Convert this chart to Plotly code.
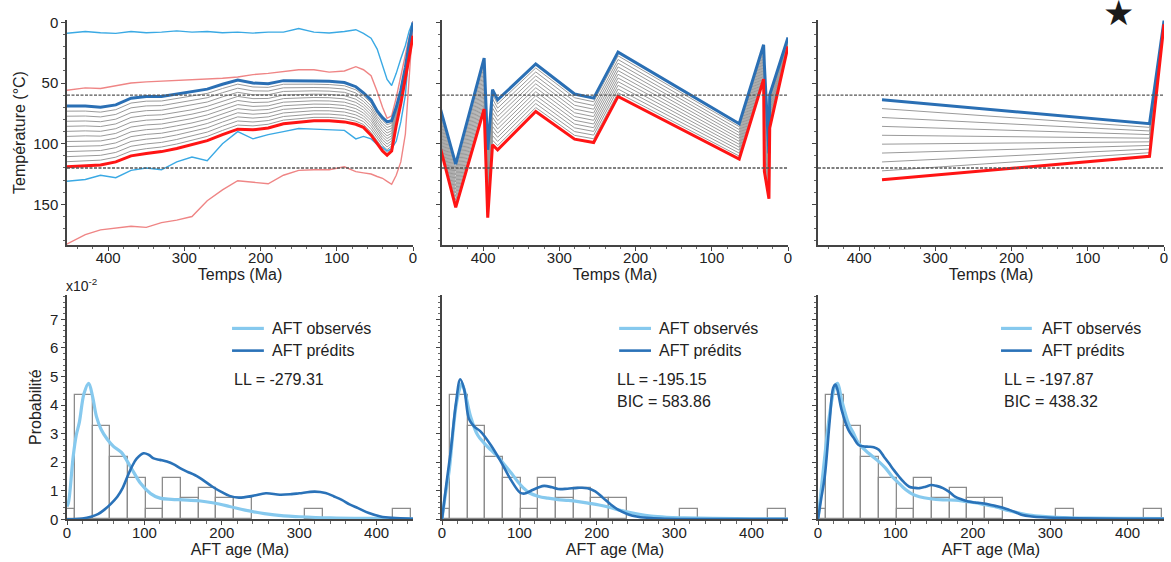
import plotly.graph_objects as go

# ---------------- Top row: time-temperature histories ----------------
# Panel 1 (sampled along a common time grid, Ma)
TIME1 = [455, 430, 410, 390, 370, 350, 330, 310, 290, 270, 250, 230, 210, 190, 170,
         150, 130, 110, 90, 75, 65, 55, 47, 40, 34, 28, 22, 16, 10, 5, 0]
BEST1 = [69, 69, 70, 68, 62.5, 61, 61, 59, 57.5, 55, 51, 47.5, 50, 50.5, 48,
         47.8, 48.2, 48.5, 49.5, 53, 58, 64, 73, 78.5, 82, 81, 70, 56, 37, 17, 0]
WORST1 = [119, 118, 117.5, 115, 110, 108, 106.5, 104, 101, 97.5, 92.5, 88, 88.5, 87, 83.5,
          82, 81, 81, 82, 84, 86.5, 93, 100, 106, 109.5, 106, 85, 67, 46, 27, 11]
ENV_BLUE_TOP1 = [9, 7.5, 8.5, 9, 7.5, 8.5, 8, 7, 8, 7.5, 8.5, 8, 8.8, 8, 8,
                 5, 8, 8.7, 7.5, 6, 9, 13, 22, 36, 47, 52, 42, 30, 19, 7, -1]
ENV_RED_TOP1 = [56, 54, 54.5, 52, 50, 49, 48.5, 48, 47, 46.5, 46, 45, 43, 42, 40.5,
                39, 39, 41, 40, 36.5, 39, 44, 57, 70, 79, 77, 62, 45, 26, 12, 2]
ENV_BLUE_BOT1 = [131, 129.5, 126, 128, 122, 120, 121.5, 115, 111, 114, 100, 90, 96, 92.5, 90,
                 87.5, 88, 88.5, 89, 96, 94, 96, 100.5, 103, 106, 104, 98, 82, 60, 22, 0]
ENV_RED_BOT1 = [183, 175, 171, 169.5, 168, 169, 165, 163, 160, 147, 138, 130.5, 132, 133, 126,
                122, 121.5, 121.4, 119, 123, 124, 125, 127, 128.5, 131, 133.5, 126, 115, 92, 47, -1]

# Panel 2 (path nodes, Ma)
TIME2 = [460, 436, 398.7, 394, 387.7, 381, 331, 280, 255, 223, 64, 32, 31, 25, 24, 0]
BEST2 = [62.3, 116.8, 29.4, 105, 55.5, 63.8, 34.3, 59, 62.4, 24.5, 83.5, 18.4, 35, 108, 59.6, 12.4]
WORST2 = [94, 152.5, 71.4, 161, 100.8, 105, 73.4, 96.2, 99, 61, 112.6, 46.7, 122.8, 145.3, 87, 19.8]

# Panel 3 (path nodes, Ma)
TIME3 = [370, 19, 0]
BEST3 = [63.7, 83.5, -1.5]
WORST3 = [129.7, 110.4, 1.5]

N_INTERVALS = [12, 12, 9]      # number of steps between best and worst paths
PAZ_LIMITS = [60, 120]         # dashed isotherms (degC)

# ---------------- Bottom row: AFT age distributions ----------------
BIN_CENTERS = [-1.1, 21.7, 44.6, 67.4, 90.3, 113.1, 136.0, 158.8, 181.7, 204.5, 227.4, 318.8, 433.0]
BIN_HEIGHTS = [0.36, 4.36, 3.27, 2.18, 1.45, 0.36, 1.45, 0.73, 1.09, 0.73, 0.73, 0.36, 0.36]
BIN_WIDTH = 22.85

OBS1_AGE = [0, 2, 8, 12, 16, 22, 28, 33, 38, 44, 52, 60, 70, 82, 95, 108, 120, 135, 150,
            170, 190, 210, 230, 255, 280, 300, 340, 390, 447]
OBS1_VAL = [0.45, 0.6, 2.2, 2.95, 3.4, 4.4, 4.76, 4.3, 3.6, 3.15, 2.8, 2.55, 2.35, 1.84, 1.26,
            0.9, 0.74, 0.7, 0.68, 0.65, 0.57, 0.45, 0.32, 0.2, 0.12, 0.09, 0.05, 0.03, 0.02]
PRED1_AGE = [0, 20, 31, 40, 48, 57, 65, 72, 78, 84, 90, 99, 106, 112, 120, 129, 138, 146, 155,
             165, 172, 188, 200, 210, 222, 240, 257, 275, 290, 300, 320, 334, 345, 355, 365,
             376, 390, 405, 420, 447]
PRED1_VAL = [0.0, 0.03, 0.09, 0.18, 0.33, 0.55, 0.79, 1.1, 1.49, 1.85, 2.12, 2.31, 2.25, 2.13,
             2.08, 2.02, 1.92, 1.79, 1.67, 1.55, 1.44, 1.14, 0.95, 0.82, 0.76, 0.82, 0.91, 0.86,
             0.88, 0.91, 0.97, 0.92, 0.8, 0.68, 0.52, 0.39, 0.22, 0.1, 0.05, 0.02]

OBS2_AGE = [0, 4, 9.4, 14, 18, 22, 25.5, 28, 31, 37, 46, 55, 63, 72, 81, 90, 97, 105, 113,
            125, 137, 150, 163, 176, 190, 203, 216, 228, 240, 253, 270, 290, 313, 350, 400, 447]
OBS2_VAL = [0, 0.8, 1.73, 3.0, 3.94, 4.5, 4.76, 4.6, 4.29, 3.59, 2.95, 2.65, 2.43, 2.2, 1.9,
            1.6, 1.35, 1.1, 0.92, 0.8, 0.74, 0.69, 0.66, 0.62, 0.56, 0.5, 0.42, 0.33, 0.25,
            0.18, 0.11, 0.07, 0.05, 0.03, 0.02, 0.02]
PRED2_AGE = [0, 5, 11.5, 18, 23.6, 28.8, 35, 41.8, 50, 63, 76, 89, 101, 107, 115, 125, 132,
             142, 150, 162, 175, 188, 198, 208, 218, 228, 240, 253, 270, 290, 330, 400, 447]
PRED2_VAL = [0, 1.1, 2.45, 4.06, 4.9, 4.53, 3.5, 3.24, 3.07, 2.6, 2.02, 1.38, 0.93, 0.9, 1.0,
             1.12, 1.17, 1.12, 1.06, 1.07, 1.1, 1.09, 0.98, 0.75, 0.52, 0.33, 0.18, 0.09, 0.04,
             0.02, 0.01, 0.01, 0.01]

OBS3_AGE = [0, 4, 8.7, 15.2, 21.8, 25.3, 30.5, 39.3, 46, 52.4, 65.5, 78.6, 87, 96, 105, 113.5,
            122, 131, 145, 161.5, 177, 190, 203, 216, 229, 247, 260, 273, 290, 308, 350, 400, 452]
OBS3_VAL = [0, 1.0, 2.19, 3.71, 4.64, 4.76, 4.18, 3.36, 3.0, 2.66, 2.31, 2.02, 1.8, 1.49, 1.25,
            1.03, 0.88, 0.79, 0.72, 0.68, 0.67, 0.63, 0.58, 0.51, 0.44, 0.3, 0.22, 0.15, 0.1,
            0.07, 0.04, 0.03, 0.02]
PRED3_AGE = [0, 4, 8.7, 15.2, 19.6, 22.5, 25, 30.5, 39.3, 46, 52.4, 60, 65.5, 72, 78.6, 85,
             91.7, 98, 104.8, 111, 117.9, 125, 131, 139, 146.2, 153, 161.5, 170, 177, 185, 194,
             203, 212, 221, 229, 238, 247, 256, 264, 276, 290, 320, 400, 452]
PRED3_VAL = [0, 0.7, 1.49, 3.48, 4.6, 4.72, 4.55, 3.83, 3.13, 2.85, 2.6, 2.55, 2.54, 2.52, 2.43,
             2.2, 1.96, 1.72, 1.49, 1.3, 1.14, 1.1, 1.09, 1.14, 1.2, 1.17, 1.09, 0.95, 0.79, 0.7,
             0.62, 0.59, 0.56, 0.52, 0.47, 0.41, 0.33, 0.24, 0.15, 0.1, 0.07, 0.04, 0.02, 0.02]

STATS = [["LL = -279.31"], ["LL = -195.15", "BIC = 583.86"], ["LL = -197.87", "BIC = 438.32"]]
LEGEND_LABELS = ["AFT observés", "AFT prédits"]

# ---------------- styling ----------------
FONT = "Liberation Sans, Arial, Helvetica, sans-serif"
C_BEST = "#2a6fb4"
C_WORST = "#ff1414"
C_ENV_BLUE = "#3aa9e4"
C_ENV_RED = "#ef8585"
C_GRAY = "#9a9a9a"
C_OBS = "#86c9ee"
C_PRED = "#2a72b8"
AX_COL = "#444444"

COLS = [[67 / 1171, 413 / 1171], [442 / 1171, 788 / 1171], [818 / 1171, 1164 / 1171]]
TOP_Y = [1 - 245 / 562, 1 - 20 / 562]
BOT_Y = [1 - 519.3 / 562, 1 - 295 / 562]

fig = go.Figure()


def interp_lines(t, a, b, n):
    xs, ys = [], []
    for k in range(1, n):
        f = k / n
        xs += list(t) + [None]
        ys += [ai + (bi - ai) * f for ai, bi in zip(a, b)] + [None]
    return xs, ys


top_sets = [(TIME1, BEST1, WORST1), (TIME2, BEST2, WORST2), (TIME3, BEST3, WORST3)]
for i, (t, best, worst) in enumerate(top_sets):
    xa, ya = ("x" if i == 0 else f"x{i+1}"), ("y" if i == 0 else f"y{i+1}")
    gx, gy = interp_lines(t, best, worst, N_INTERVALS[i])
    fig.add_trace(go.Scatter(x=gx, y=gy, mode="lines", xaxis=xa, yaxis=ya,
                             line=dict(color=C_GRAY, width=1), showlegend=False, hoverinfo="skip"))
    if i == 0:
        for env, col in [(ENV_BLUE_TOP1, C_ENV_BLUE), (ENV_RED_TOP1, C_ENV_RED),
                         (ENV_BLUE_BOT1, C_ENV_BLUE), (ENV_RED_BOT1, C_ENV_RED)]:
            fig.add_trace(go.Scatter(x=t, y=env, mode="lines", xaxis=xa, yaxis=ya,
                                     line=dict(color=col, width=1.4), showlegend=False))
    fig.add_trace(go.Scatter(x=t, y=best, mode="lines", xaxis=xa, yaxis=ya,
                             line=dict(color=C_BEST, width=3), showlegend=False))
    fig.add_trace(go.Scatter(x=t, y=worst, mode="lines", xaxis=xa, yaxis=ya,
                             line=dict(color=C_WORST, width=3), showlegend=False))

bot_sets = [(OBS1_AGE, OBS1_VAL, PRED1_AGE, PRED1_VAL),
            (OBS2_AGE, OBS2_VAL, PRED2_AGE, PRED2_VAL),
            (OBS3_AGE, OBS3_VAL, PRED3_AGE, PRED3_VAL)]
for i, (oa, ov, pa, pv) in enumerate(bot_sets):
    xa, ya = f"x{i+4}", f"y{i+4}"
    fig.add_trace(go.Bar(x=BIN_CENTERS, y=BIN_HEIGHTS, width=BIN_WIDTH, xaxis=xa, yaxis=ya,
                         marker=dict(color="rgba(255,255,255,0)", line=dict(color="#8c8c8c", width=1.3)),
                         showlegend=False))
    fig.add_trace(go.Scatter(x=oa, y=ov, mode="lines", xaxis=xa, yaxis=ya, line_shape="spline",
                             line=dict(color=C_OBS, width=3.2), showlegend=False))
    fig.add_trace(go.Scatter(x=pa, y=pv, mode="lines", xaxis=xa, yaxis=ya, line_shape="spline",
                             line=dict(color=C_PRED, width=2.6), showlegend=False))

axis_common = dict(showline=True, linecolor=AX_COL, linewidth=1.5, ticks="outside", ticklen=4,
                   tickwidth=1.2, tickcolor=AX_COL, showgrid=False, zeroline=False, automargin=False,
                   tickfont=dict(size=15, color="#222", family=FONT))

layout = dict(width=1171, height=562, margin=dict(l=0, r=0, t=0, b=0, autoexpand=False),
              paper_bgcolor="white", plot_bgcolor="white", bargap=0,
              font=dict(family=FONT, color="#222"))

for i in range(3):
    sx = "" if i == 0 else str(i + 1)
    layout[f"xaxis{sx}"] = dict(axis_common, domain=COLS[i], anchor=f"y{sx}", range=[454, 0],
                                dtick=100, tick0=0, ticklabelstandoff=-6,
                                minor=dict(ticks="outside", ticklen=2.5, tickcolor="#666", dtick=20),
                                title=dict(text="Temps (Ma)", font=dict(size=16, family=FONT), standoff=0))
    ydict = dict(axis_common, domain=TOP_Y, anchor=f"x{sx}", range=[183.5, -2],
                 dtick=50, tick0=0, showticklabels=(i == 0),
                 minor=dict(ticks="outside", ticklen=2.5, tickcolor="#666", dtick=10))
    if i == 0:
        ydict["title"] = dict(text="Température (°C)", font=dict(size=16, family=FONT), standoff=4)
    layout[f"yaxis{sx}"] = ydict
    n = i + 4
    layout[f"xaxis{n}"] = dict(axis_common, domain=COLS[i], anchor=f"y{n}", range=[0, 447],
                               dtick=100, tick0=0, ticklabelstandoff=-5,
                               minor=dict(ticks="outside", ticklen=2.5, tickcolor="#666", dtick=20),
                               title=dict(text="AFT age (Ma)", font=dict(size=16, family=FONT), standoff=1))
    ydict = dict(axis_common, domain=BOT_Y, anchor=f"x{n}", range=[0, 7.85],
                 dtick=1, tick0=0, showticklabels=(i == 0),
                 minor=dict(ticks="outside", ticklen=2.5, tickcolor="#666", dtick=0.2))
    if i == 0:
        ydict["title"] = dict(text="Probabilité", font=dict(size=16, family=FONT), standoff=4)
    layout[f"yaxis{n}"] = ydict

shapes, annotations = [], []
for i in range(3):
    sx = "" if i == 0 else str(i + 1)
    for temp in PAZ_LIMITS:
        shapes.append(dict(type="line", xref=f"x{sx} domain", yref=f"y{sx}", x0=0, x1=1, y0=temp, y1=temp,
                           line=dict(color="#555", width=1.3, dash="3px,1.5px")))

LEG_X = [(0.477, 0.569, 0.587, 0.477), (0.512, 0.604, 0.621, 0.500), (0.529, 0.618, 0.642, 0.532)]
for i in range(3):
    n = i + 4
    x0, x1, xt, xs = LEG_X[i]
    for j, (lab, col, w) in enumerate([(LEGEND_LABELS[0], C_OBS, 3.2), (LEGEND_LABELS[1], C_PRED, 2.6)]):
        yy = 0.851 - 0.099 * j
        shapes.append(dict(type="line", xref=f"x{n} domain", yref=f"y{n} domain",
                           x0=x0, x1=x1, y0=yy, y1=yy, line=dict(color=col, width=w)))
        annotations.append(dict(text=lab, xref=f"x{n} domain", yref=f"y{n} domain", x=xt, y=yy,
                                xanchor="left", yanchor="middle", showarrow=False,
                                font=dict(size=16, family=FONT, color="#222")))
    for k, s in enumerate(STATS[i]):
        annotations.append(dict(text=s, xref=f"x{n} domain", yref=f"y{n} domain", x=xs,
                                y=0.625 - 0.098 * k, xanchor="left", yanchor="middle", showarrow=False,
                                font=dict(size=16, family=FONT, color="#222")))

annotations.append(dict(text="x10<sup>-2</sup>", xref="paper", yref="paper", x=64 / 1171, y=1 - 285 / 562,
                        xanchor="left", yanchor="middle", showarrow=False,
                        font=dict(size=14, family=FONT, color="#222")))
annotations.append(dict(text="★", xref="paper", yref="paper", x=1118 / 1171, y=1 - 13 / 562,
                        xanchor="center", yanchor="middle", yshift=0, showarrow=False,
                        font=dict(size=35, family="DejaVu Sans", color="#1a1a1a")))

layout["shapes"] = shapes
layout["annotations"] = annotations
fig.update_layout(**layout)
fig.write_html("out.html", config={"displayModeBar": False},
               post_script="document.body.style.margin='0';document.body.style.padding='0';"
                           "document.body.style.overflow='hidden';")
